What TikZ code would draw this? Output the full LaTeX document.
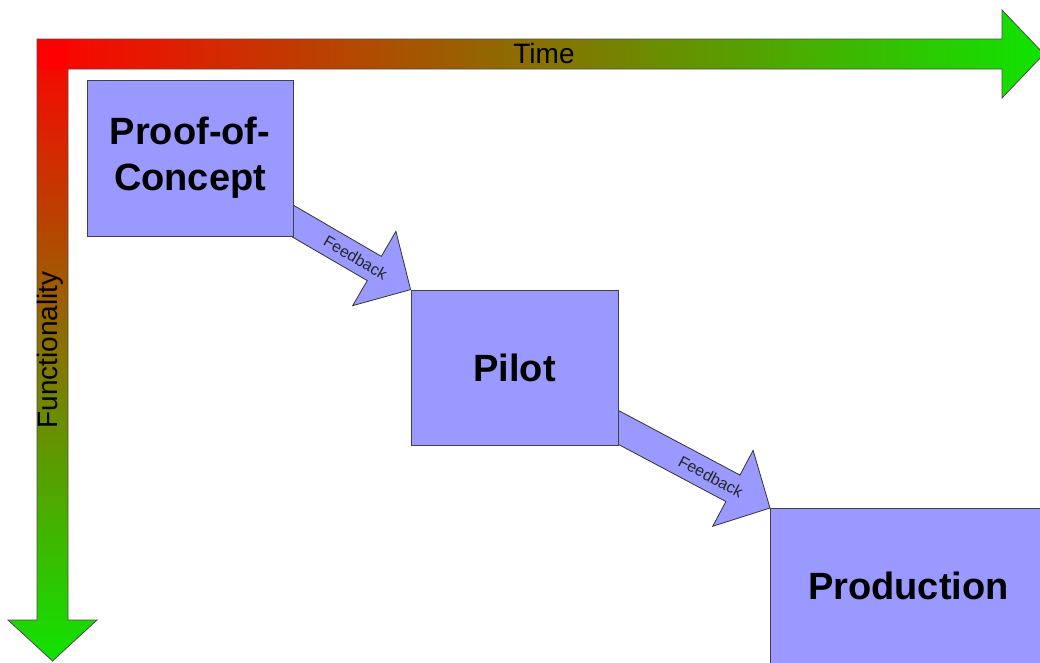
\documentclass[tikz,border=0pt]{standalone}
\usepackage{fontspec}
\setmainfont{Liberation Sans}
\usetikzlibrary{calc,backgrounds}

\definecolor{axisred}{RGB}{255,0,0}
\definecolor{axisgreen}{RGB}{15,228,0}
\definecolor{stagefill}{RGB}{153,153,255}

\tikzset{
	stagebox/.style={draw=black!75, line width=0.8pt, fill=stagefill, inner sep=0pt, align=center, font=\bfseries\fontsize{38}{46}\selectfont},
	fbarrow/.style={draw=black!80, line width=0.8pt, fill=stagefill, line join=miter},
	fblabel/.style={sloped, inner sep=0pt, text=black!85, font=\fontsize{16}{16}\selectfont},
	axisedge/.style={draw=black!70, line width=0.8pt, line join=miter},
	axislabel/.style={inner sep=0pt, font=\fontsize{28}{28}\selectfont}
}

% feedback arrow: from #1 (behind the box) to the tip #2
\newcommand{\feedbackarrow}[3]{%
	\coordinate (fbtail) at ($(#1)!-30pt!(#2)$);
	\coordinate (fbbase) at ($(#2)!42pt!(#1)$);
	\draw[fbarrow] ($(fbtail)!#3!90:(#2)$) -- ($(fbbase)!#3!90:(#2)$) -- ($(fbbase)!43pt!90:(#2)$) -- (#2)
		-- ($(fbbase)!43pt!-90:(#2)$) -- ($(fbbase)!#3!-90:(#2)$) -- ($(fbtail)!#3!-90:(#2)$) -- cycle;
}

\begin{document}
\begin{tikzpicture}[x=1pt, y=-1pt]
		%%%%% START %%%%%
		\useasboundingbox (0,0) rectangle (1040,662);
		\clip (0,0) rectangle (1040,662);
		
		% time / functionality axes
		\shade[left color=axisred, right color=axisgreen] (37,39) -- (1002,39) -- (1002,10) -- (1044,54) -- (1002,98) -- (1002,69) -- (37,69) -- cycle;
		\shade[top color=axisred, bottom color=axisgreen] (37,39) -- (68,39) -- (68,620) -- (97,620) -- (52.5,661) -- (8,620) -- (37,620) -- cycle;
		\fill[axisred] (37,39) rectangle (68,69);
		\draw[axisedge] (37,39) -- (1002,39) -- (1002,10) -- (1044,54) -- (1002,98) -- (1002,69) -- (68,69)
			-- (68,620) -- (97,620) -- (52.5,661) -- (8,620) -- (37,620) -- cycle;
		
		\node[axislabel] (time) at (544,53) {Time};
		\node[axislabel, rotate=90] (func) at (50,350) {Functionality};
		
		% stages
		\node[stagebox, minimum width=206, minimum height=156] (poc) at (190,158) {Proof-of-\\Concept};
		\node[stagebox, minimum width=207, minimum height=155] (pilot) at (514.5,367.5) {Pilot};
		\node[stagebox, minimum width=276, minimum height=156, anchor=north west] (prod) at (770,508) {Production};
		
		% feedback
		\coordinate (fbone) at ($(poc.south east)+(0,-15)$);
		\coordinate (fbtwo) at ($(pilot.south east)+(0,-18)$);
		\begin{pgfonlayer}{background}
			\feedbackarrow{fbone}{pilot.north west}{14pt}
			\feedbackarrow{fbtwo}{prod.north west}{15pt}
		\end{pgfonlayer}
		\path (fbone) -- node[fblabel, pos=0.53] (fbtextone) {Feedback} (pilot.north west);
		\path (fbtwo) -- node[fblabel, pos=0.61] (fbtexttwo) {Feedback} (prod.north west);
		
		%%%%% END %%%%%
	\end{tikzpicture}
\end{document}
